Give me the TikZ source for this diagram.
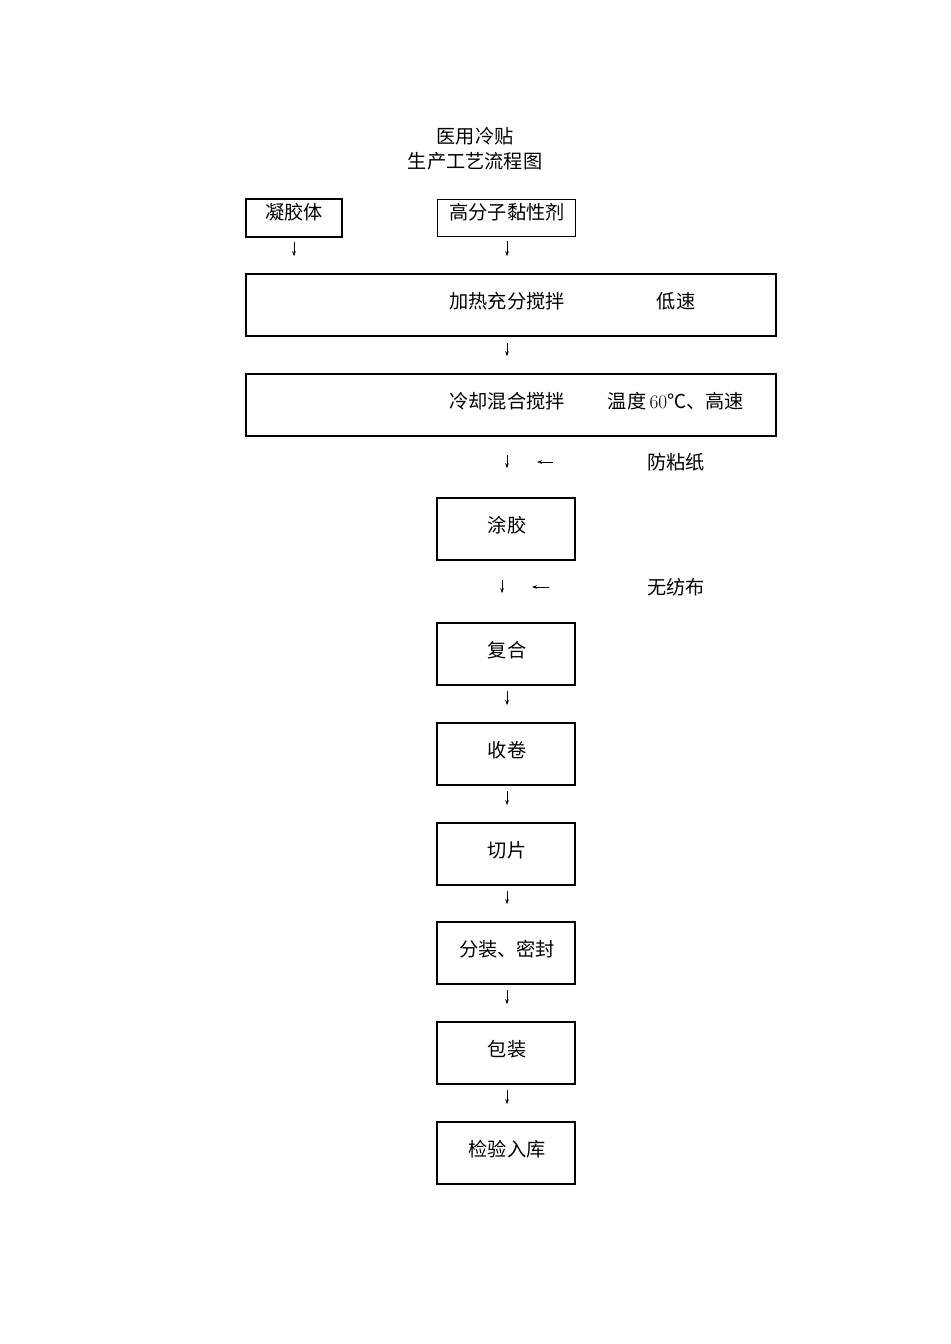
\documentclass[tikz,border=0pt]{standalone}
\usepackage{fontspec}
\newfontfamily\hei{Noto Sans CJK SC}
\usetikzlibrary{arrows.meta}
\begin{document}
\begin{tikzpicture}[x=1bp,y=-1bp,
  txt/.style={font=\hei\fontsize{19.2bp}{23bp}\selectfont, inner sep=0pt},
  box/.style={draw, line width=1.6bp, inner sep=0pt},
  thinbox/.style={draw, line width=0.8bp, inner sep=0pt},
  arr/.style={-{Stealth[length=5bp,width=3.6bp]}, line width=0.7bp}]
\useasboundingbox (0,0) rectangle (950,1344);

% title
\node[txt] (t1) at (475,136) {医用冷贴};
\node[txt] (t2) at (475,161) {生产工艺流程图};

% raw materials
\node[box, minimum width=96bp, minimum height=38bp] (gel) at (294,218) {};
\node[txt] (gelt) at (294,212) {凝胶体};
\node[thinbox, minimum width=138bp, minimum height=37bp] (poly) at (506,217.5) {};
\node[txt] (polyt) at (507,212) {高分子黏性剂};

% mixing stages
\node[box, minimum width=530bp, minimum height=62bp] (mix1) at (511,305) {};
\node[txt] (mix1t) at (507,301) {加热充分搅拌};
\node[txt] (mix1s) at (676,301) {低速};

\node[box, minimum width=530bp, minimum height=62bp] (mix2) at (511,405) {};
\node[txt] (mix2t) at (507,401) {冷却混合搅拌};
\node[txt] (mix2s) at (676,401) {温度\,{\rmfamily 60}℃、高速};

% side materials
\node[txt] (paper) at (676,462) {防粘纸};
\coordinate (pa) at (537,462);
\node[txt] (cloth) at (676,587) {无纺布};
\coordinate (ca) at (532,587);

% process steps
\foreach \n/\y/\t in {coat/529/涂胶, comp/654/复合, roll/754/收卷, cut/854/切片,
                      pack/953/{分装、密封}, wrap/1053/包装, store/1153/检验入库}{
  \node[box, minimum width=138bp, minimum height=62bp] (\n) at (506,\y) {};
  \node[txt] (\n t) at (507,\y-4) {\t};
}

% connectors
\draw[arr, shorten <=4bp, shorten >=17bp] (gel.south) -- (gel.south |- mix1.north);
\draw[arr, shorten <=5bp, shorten >=17bp] ([xshift=1bp]poly.south) -- ([xshift=1bp]poly.south |- mix1.north);
\draw[arr, shorten <=6bp, shorten >=17bp] ([xshift=-4bp]mix1.south) -- ([xshift=-4bp]mix1.south |- mix2.north);
\draw[arr, shorten <=18bp, shorten >=29bp] ([xshift=1bp]coat.north |- mix2.south) -- ([xshift=1bp]coat.north);
\draw[arr, shorten <=94bp] (paper.west) -- (pa);
\draw[arr, shorten <=19bp, shorten >=29bp] ([xshift=-4bp]coat.south) -- ([xshift=-4bp]comp.north);
\draw[arr, shorten <=98bp] (cloth.west) -- (ca);
\foreach \a/\b in {comp/roll, roll/cut, cut/pack, pack/wrap, wrap/store}{
  \draw[arr, shorten <=5bp, shorten >=17bp] ([xshift=1bp]\a.south) -- ([xshift=1bp]\b.north);
}
\end{tikzpicture}
\end{document}
